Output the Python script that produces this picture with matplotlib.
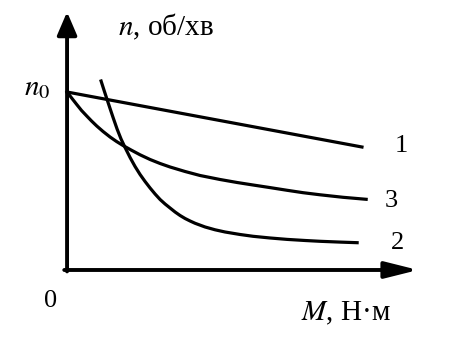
import numpy as np
import matplotlib.pyplot as plt

plt.rcParams['font.family'] = ['Liberation Serif', 'DejaVu Serif']
plt.rcParams['mathtext.fontset'] = 'stix'

# speed n vs torque M (n0 = 10)
m1 = [0.0, 8.40]
n1 = [10.0, 6.91]

m2 = [0.969, 1.054, 1.140, 1.225, 1.311, 1.425, 1.538, 1.652, 1.795, 1.937,
      2.080, 2.222, 2.365, 2.507, 2.650, 2.792, 2.934, 3.077, 3.219, 3.362,
      3.504, 3.647, 3.932, 4.217, 4.501, 4.929, 5.299, 5.783, 6.268, 6.781,
      7.208, 7.778, 8.262]
n2 = [10.618, 10.096, 9.579, 9.073, 8.567, 7.921, 7.360, 6.882, 6.320, 5.815,
      5.365, 4.972, 4.607, 4.270, 3.961, 3.708, 3.483, 3.258, 3.062, 2.893,
      2.753, 2.624, 2.416, 2.258, 2.135, 1.994, 1.893, 1.798, 1.719, 1.657,
      1.612, 1.567, 1.534]

m3 = [0.0, 0.142, 0.276, 0.413, 0.561, 0.698, 0.846, 1.026, 1.225, 1.410,
      1.595, 1.823, 2.080, 2.365, 2.650, 2.934, 3.362, 3.789, 4.359, 4.843,
      5.299, 5.783, 6.268, 6.724, 7.208, 7.863, 8.519]
n3 = [10.0, 9.635, 9.298, 8.961, 8.652, 8.371, 8.090, 7.781, 7.472, 7.219,
      6.994, 6.742, 6.472, 6.208, 5.983, 5.787, 5.534, 5.309, 5.084, 4.916,
      4.775, 4.629, 4.478, 4.343, 4.225, 4.084, 3.972]

curve_labels = ['1', '2', '3']
x_label = r'$M$, Н·м'
y_label = r'$n$, об/хв'

fig = plt.figure(figsize=(4.55, 3.41), dpi=100)
ax = fig.add_axes([0, 0, 1, 1])
ax.set_xlim(-1.91, 11.05)
ax.set_ylim(-3.99, 15.17)
ax.axis('off')

for m, n in [(m1, n1), (m2, n2), (m3, n3)]:
    ax.plot(m, n, color='black', lw=2.3, solid_joinstyle='round')

# axes with arrows
ax.annotate('', xy=(10.0, 0), xytext=(-0.08, 0),
            arrowprops=dict(arrowstyle='-|>,head_length=2.0,head_width=0.5',
                            lw=2.8, color='black', shrinkA=0, shrinkB=0,
                            mutation_scale=10))
ax.annotate('', xy=(0, 14.5), xytext=(0, -0.08),
            arrowprops=dict(arrowstyle='-|>,head_length=1.4,head_width=0.6',
                            lw=2.8, color='black', shrinkA=0, shrinkB=0,
                            mutation_scale=10))

ax.text(9.52, 6.63, curve_labels[0], fontsize=19, ha='center', va='baseline')
ax.text(9.40, 1.18, curve_labels[1], fontsize=19, ha='center', va='baseline')
ax.text(9.23, 3.54, curve_labels[2], fontsize=19, ha='center', va='baseline')
ax.text(-0.48, -2.08, '0', fontsize=19, ha='center', va='baseline')
ax.text(-0.85, 9.83, r'$n_0$', fontsize=21, ha='center', va='baseline')
ax.text(2.82, 13.2, y_label, fontsize=21, ha='center', va='baseline')
ax.text(7.95, -2.81, x_label, fontsize=21, ha='center', va='baseline')

fig.savefig('out.png', dpi=100)
